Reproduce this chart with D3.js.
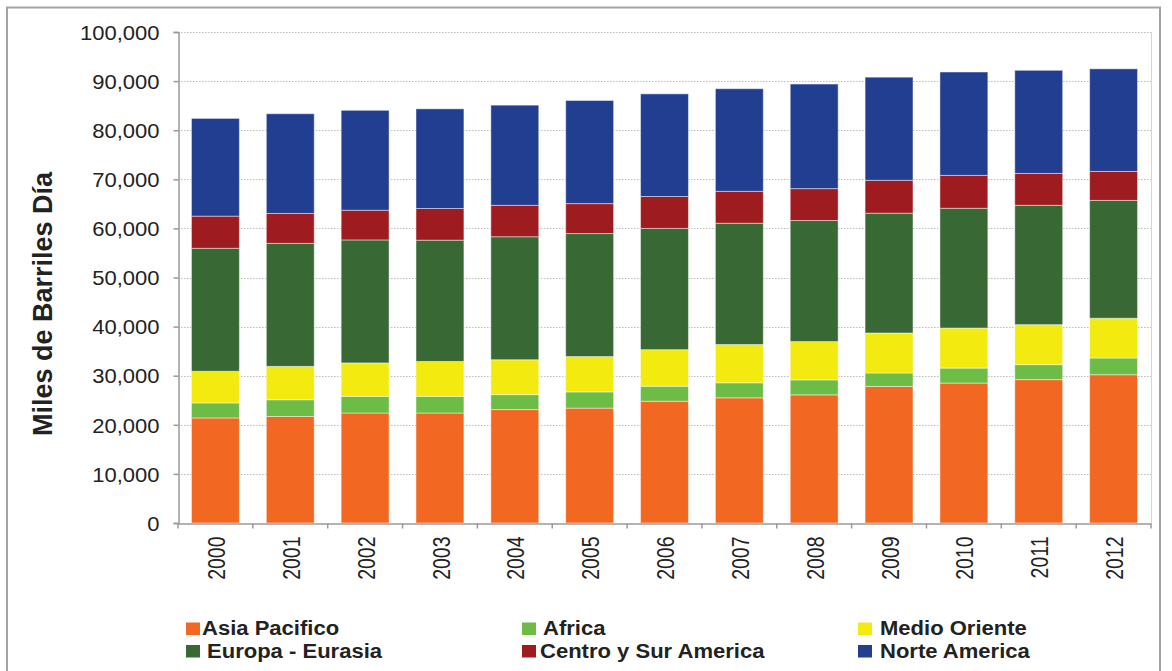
<!DOCTYPE html>
<html>
<head>
<meta charset="utf-8">
<script src="https://cdn.jsdelivr.net/npm/d3@7"></script>
<style>
  html, body { margin: 0; padding: 0; background: #fff; }
  svg { display: block; font-family: "Liberation Sans", Arial, sans-serif; }
</style>
</head>
<body>
<svg id="chart" width="1172" height="671"></svg>
<script>
// ---- data (miles de barriles día) ----
const years = ["2000","2001","2002","2003","2004","2005","2006","2007","2008","2009","2010","2011","2012"];
const seriesNames = ["Asia Pacifico","Africa","Medio Oriente","Europa - Eurasia","Centro y Sur America","Norte America"];
const asiaPacifico   = [21400, 21700, 22400, 22400, 23100, 23400, 24800, 25500, 26100, 27800, 28500, 29200, 30200];
const africa         = [3050, 3400, 3400, 3400, 3050, 3300, 3050, 3050, 3050, 2750, 3050, 3050, 3400];
const medioOriente   = [6450, 6800, 6800, 7100, 7100, 7200, 7450, 7800, 7800, 8150, 8150, 8150, 8100];
const europaEurasia  = [25050, 25050, 25050, 24700, 25050, 25050, 24700, 24700, 24650, 24400, 24400, 24300, 24000];
const centroSur      = [6550, 6100, 6050, 6450, 6400, 6100, 6500, 6500, 6500, 6700, 6700, 6500, 5900];
const norteAmerica   = [19900, 20300, 20350, 20300, 20400, 21000, 20900, 20900, 21300, 21000, 21050, 21000, 20900];
const yTicks = [0,10000,20000,30000,40000,50000,60000,70000,80000,90000,100000];
const colors = ["#F26822","#6CBC45","#F3EA10","#386834","#9E1C20","#223E90"];
const yTitle = "Miles de Barriles Día";

(function () {
const seriesValues = [asiaPacifico, africa, medioOriente, europaEurasia, centroSur, norteAmerica];
const table = years.map((yr, i) => {
  const row = { year: yr };
  seriesNames.forEach((s, k) => row[s] = seriesValues[k][i]);
  return row;
});
const stacked = d3.stack().keys(seriesNames)(table);

const svg = d3.select("#chart");
const pL = 178, pR = 1151, pT = 32, pB = 523;

const x = d3.scaleBand().domain(years).range([pL, pR]).paddingInner(0.36).paddingOuter(0.18);
const y = d3.scaleLinear().domain([0, 100000]).range([pB, pT]);
const color = d3.scaleOrdinal().domain(seriesNames).range(colors);

// outer border
svg.append("rect").attr("x", 7).attr("y", 7.5).attr("width", 1153).attr("height", 720)
  .attr("fill", "none").attr("stroke", "#a3a3a3").attr("stroke-width", 2);

// gridlines
svg.append("g").selectAll("line").data(yTicks.filter(d => d > 0)).join("line")
  .attr("x1", pL).attr("x2", pR)
  .attr("y1", d => Math.round(y(d)) + 0.5).attr("y2", d => Math.round(y(d)) + 0.5)
  .attr("stroke", "#bdbdbd").attr("stroke-width", 1).attr("stroke-dasharray", "1.5,1.5");

// right plot edge
svg.append("line").attr("x1", pR + 0.5).attr("x2", pR + 0.5).attr("y1", pT).attr("y2", pB)
  .attr("stroke", "#d4d4d4").attr("stroke-width", 1);

// bars
svg.append("g").selectAll("g").data(stacked).join("g")
  .attr("fill", d => color(d.key))
  .selectAll("rect").data(d => d).join("rect")
  .attr("x", d => x(d.data.year))
  .attr("width", x.bandwidth())
  .attr("y", d => y(d[1]))
  .attr("height", d => y(d[0]) - y(d[1]))
  .attr("stroke", "rgba(255,255,255,0.45)")
  .attr("stroke-width", 1);

// y axis
const yAxis = d3.axisLeft(y).tickValues(yTicks).tickSize(5).tickPadding(14)
  .tickFormat(d3.format(","));
const gy = svg.append("g").attr("transform", `translate(${pL + 0.5},0)`).call(yAxis);
gy.select(".domain").attr("stroke", "#9a9a9a").attr("stroke-width", 1.5);
gy.selectAll(".tick line").attr("stroke", "#9a9a9a").attr("stroke-width", 1.5);
gy.selectAll(".tick text")
  .attr("font-size", 20).attr("fill", "#222")
  .attr("font-family", "'Liberation Sans', Arial, sans-serif")
  .attr("dy", "0.36em")
  .each(function() {
    const t = d3.select(this);
    const xx = +t.attr("x");
    t.attr("x", null).attr("transform", `translate(${xx},0) scale(1.1,1)`);
  });

// x axis
const xAxis = d3.axisBottom(x).tickSize(0).tickFormat("");
const gx = svg.append("g").attr("transform", `translate(0,${pB + 0.5})`).call(xAxis);
gx.select(".domain").attr("stroke", "#9a9a9a").attr("stroke-width", 1.5);
const bounds = years.map(yr => x(yr) - x.step() * x.paddingInner() / 2);
bounds.push(pR);
bounds[0] = pL;
gx.append("g").selectAll("line").data(bounds).join("line")
  .attr("x1", d => d).attr("x2", d => d).attr("y1", 0).attr("y2", 5)
  .attr("stroke", "#9a9a9a").attr("stroke-width", 1.5);
gx.append("g").selectAll("text").data(years).join("text")
  .attr("transform", d => `translate(${x(d) + x.bandwidth() / 2 + 2},${13}) scale(1.18,1) rotate(-90)`)
  .attr("text-anchor", "end")
  .attr("dominant-baseline", "central")
  .attr("font-size", 19.5).attr("fill", "#222")
  .text(d => d);

// y title
svg.append("text")
  .attr("transform", "translate(52,304) rotate(-90)")
  .attr("text-anchor", "middle")
  .attr("font-size", 27).attr("font-weight", "bold").attr("fill", "#222")
  .text(yTitle);

// legend
const legendPos = [
  { sx: 186, tx: 202, row: 0 },
  { sx: 522, tx: 543, row: 0 },
  { sx: 858, tx: 880, row: 0 },
  { sx: 186, tx: 207, row: 1 },
  { sx: 522, tx: 540, row: 1 },
  { sx: 858, tx: 880, row: 1 }
];
const lg = svg.append("g").selectAll("g").data(seriesNames).join("g");
lg.append("rect")
  .attr("x", (d, i) => legendPos[i].sx)
  .attr("y", (d, i) => 622.5 + legendPos[i].row * 22.5)
  .attr("width", 14).attr("height", 12.5)
  .attr("fill", d => color(d));
lg.append("text")
  .attr("transform", (d, i) => `translate(${legendPos[i].tx},${635 + legendPos[i].row * 23}) scale(1.13,1)`)
  .attr("font-size", 19.5).attr("font-weight", "bold").attr("fill", "#222")
  .text(d => d);
})();
</script>
</body>
</html>
